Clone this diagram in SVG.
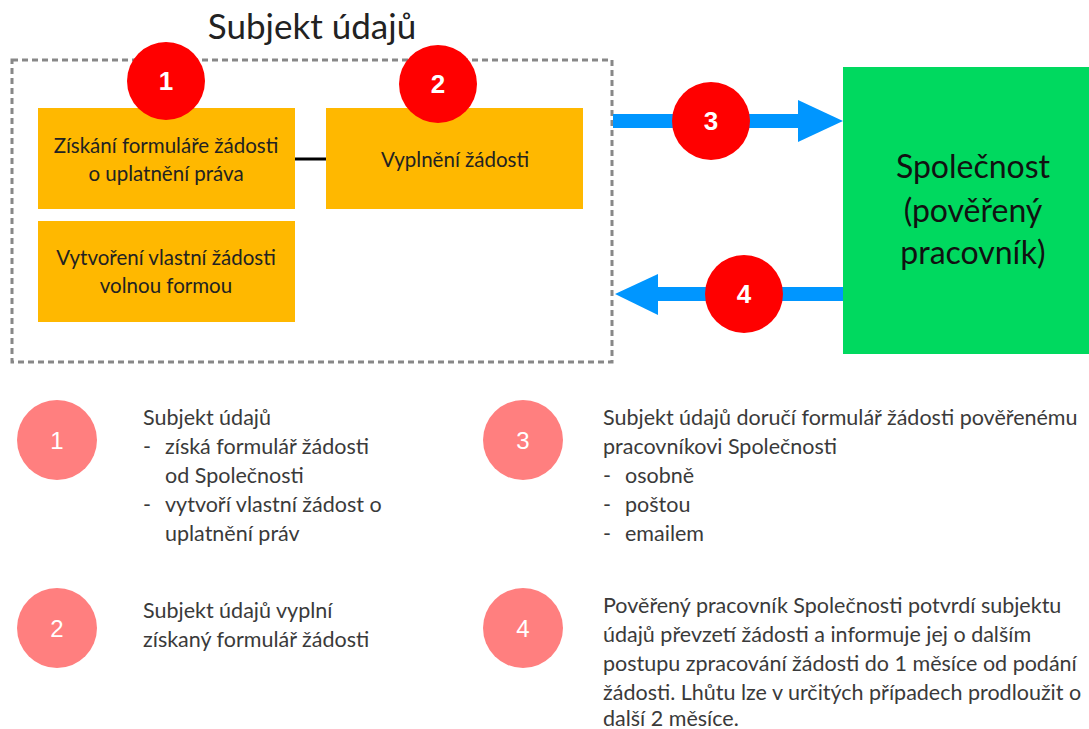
<svg xmlns="http://www.w3.org/2000/svg" width="1089" height="729" viewBox="0 0 1089 729">
<defs>
<style>
.t{font-family:Lato,"Noto Sans",sans-serif;}
.box{fill:#ffb800;}
.bt{font-family:Lato,"Noto Sans",sans-serif;font-size:20.5px;fill:#222;text-anchor:middle;}
.rc{fill:#ff0000;}
.rn{font-family:"Liberation Sans",Arial,sans-serif;font-weight:bold;font-size:26px;fill:#fff;text-anchor:middle;}
.pc{fill:#ff7f7f;}
.pn{font-family:"Liberation Sans",Arial,sans-serif;font-size:24px;fill:#fff;text-anchor:middle;}
.lt{font-family:Lato,"Noto Sans",sans-serif;font-size:21.5px;fill:#3a3a3a;}
.gt{font-family:Lato,"Noto Sans",sans-serif;font-size:32px;fill:#111;text-anchor:middle;}
.arr{stroke:#0096ff;stroke-width:14;fill:none;}
</style>
</defs>
<rect width="1089" height="729" fill="#fff"/>
<g id="container">
<rect x="12" y="60" width="600" height="302" fill="none" stroke="#888" stroke-width="3" stroke-dasharray="6 4"/>
<text class="t" x="312" y="39" font-size="35" fill="#222" text-anchor="middle">Subjekt údajů</text>
</g>
<g id="connectors">
<line x1="295" y1="159" x2="326" y2="159" stroke="#000" stroke-width="3"/>
<line class="arr" x1="613" y1="121" x2="800" y2="121"/>
<polygon points="798,100 843,121 798,142" fill="#0096ff"/>
<line class="arr" x1="843" y1="294" x2="656" y2="294"/>
<polygon points="658,274 615,294 658,315" fill="#0096ff"/>
</g>
<g id="node-ziskani">
<rect class="box" x="38" y="108" width="257" height="101"/>
<text class="bt" x="166" y="153">Získání formuláře žádosti</text>
<text class="bt" x="166" y="181">o uplatnění práva</text>
</g>
<g id="node-vyplneni">
<rect class="box" x="326" y="108" width="257" height="101"/>
<text class="bt" x="455" y="167">Vyplnění žádosti</text>
</g>
<g id="node-vytvoreni">
<rect class="box" x="38" y="221" width="257" height="101"/>
<text class="bt" x="166" y="265">Vytvoření vlastní žádosti</text>
<text class="bt" x="166" y="293">volnou formou</text>
</g>
<g id="node-spolecnost">
<rect x="843" y="67" width="246" height="287" fill="#00d95f"/>
<text class="gt" x="973" y="178">Společnost</text>
<text class="gt" x="973" y="222">(pověřený</text>
<text class="gt" x="973" y="264">pracovník)</text>
</g>
<g id="badge-1"><circle class="rc" cx="166" cy="81" r="39"/><text class="rn" x="166" y="90">1</text></g>
<g id="badge-2"><circle class="rc" cx="438" cy="84" r="39"/><text class="rn" x="438" y="93">2</text></g>
<g id="badge-3"><circle class="rc" cx="711" cy="121" r="39"/><text class="rn" x="711" y="130">3</text></g>
<g id="badge-4"><circle class="rc" cx="744" cy="294" r="39"/><text class="rn" x="744" y="303">4</text></g>
<g id="legend-1">
<circle class="pc" cx="57" cy="440" r="40"/><text class="pn" x="57" y="449">1</text>
<text class="lt" x="143" y="425">Subjekt údajů</text>
<text class="lt" x="143" y="454">-</text><text class="lt" x="165" y="454">získá formulář žádosti</text>
<text class="lt" x="165" y="483">od Společnosti</text>
<text class="lt" x="143" y="512">-</text><text class="lt" x="165" y="512">vytvoří vlastní žádost o</text>
<text class="lt" x="165" y="541">uplatnění práv</text>
</g>
<g id="legend-2">
<circle class="pc" cx="57" cy="628" r="40"/><text class="pn" x="57" y="637">2</text>
<text class="lt" x="143" y="618">Subjekt údajů vyplní</text>
<text class="lt" x="143" y="647">získaný formulář žádosti</text>
</g>
<g id="legend-3">
<circle class="pc" cx="523" cy="440" r="40"/><text class="pn" x="523" y="449">3</text>
<text class="lt" x="603" y="425">Subjekt údajů doručí formulář žádosti pověřenému</text>
<text class="lt" x="603" y="454">pracovníkovi Společnosti</text>
<text class="lt" x="603" y="483">-</text><text class="lt" x="625" y="483">osobně</text>
<text class="lt" x="603" y="512">-</text><text class="lt" x="625" y="512">poštou</text>
<text class="lt" x="603" y="541">-</text><text class="lt" x="625" y="541">emailem</text>
</g>
<g id="legend-4">
<circle class="pc" cx="523" cy="628" r="40"/><text class="pn" x="523" y="637">4</text>
<text class="lt" x="603" y="613">Pověřený pracovník Společnosti potvrdí subjektu</text>
<text class="lt" x="603" y="642">údajů převzetí žádosti a informuje jej o dalším</text>
<text class="lt" x="603" y="671">postupu zpracování žádosti do 1 měsíce od podání</text>
<text class="lt" x="603" y="700">žádosti. Lhůtu lze v určitých případech prodloužit o</text>
<text class="lt" x="603" y="726">další 2 měsíce.</text>
</g>
</svg>
